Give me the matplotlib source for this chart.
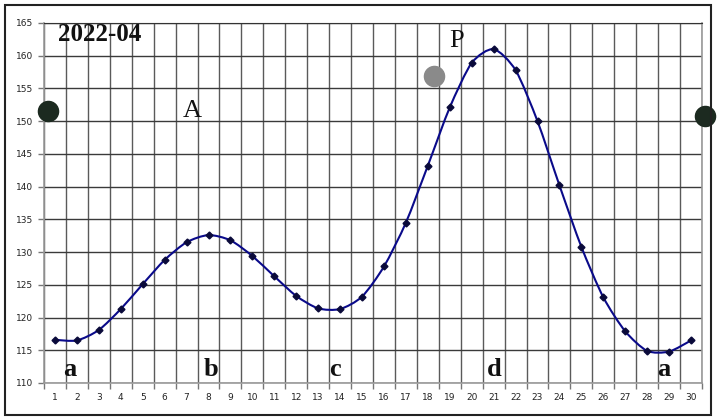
import numpy as np
import matplotlib.pyplot as plt
from matplotlib.path import Path
from matplotlib.patches import PathPatch, Rectangle

days = list(range(1, 31))
values = [116.6, 116.5, 118.1, 121.3, 125.1, 128.8, 131.5, 132.6, 131.8, 129.4,
          126.3, 123.3, 121.4, 121.3, 123.2, 127.8, 134.5, 143.2, 152.1, 158.9,
          161.0, 157.8, 150.0, 140.2, 130.8, 123.1, 117.9, 114.9, 114.8, 116.5]

title_text = '2022-04'
letters = [('A', 7.25, 151.5, 'normal'), ('P', 19.33, 162.2, 'normal'),
           ('a', 1.69, 112.0, 'bold'), ('b', 8.1, 112.0, 'bold'),
           ('c', 13.77, 112.0, 'bold'), ('d', 21.02, 112.0, 'bold'),
           ('a', 28.77, 112.0, 'bold')]
dots = [(0.68, 151.6, '#1c2a20'), (18.28, 156.9, '#8a8a8a'), (30.64, 150.8, '#1c2a20')]


def smooth_path(xs, ys, t=1.0 / 8):
    # catmull-rom style bezier, like excel's smoothed line
    pts = np.column_stack([xs, ys])
    verts = [pts[0]]
    codes = [Path.MOVETO]
    n = len(pts)
    for i in range(n - 1):
        p0 = pts[max(i - 1, 0)]
        p1 = pts[i]
        p2 = pts[i + 1]
        p3 = pts[min(i + 2, n - 1)]
        c1 = p1 + (p2 - p0) * t
        c2 = p2 - (p3 - p1) * t
        verts += [c1, c2, p2]
        codes += [Path.CURVE4] * 3
    return Path(verts, codes)


fig = plt.figure(figsize=(7.17, 4.2), dpi=100)
ax = fig.add_axes([44 / 717, 37 / 420, 658 / 717, 360 / 420])

ax.set_xlim(0.5, 30.5)
ax.set_ylim(110, 165)

ax.set_xticks(days)
ax.set_xticklabels([str(d) for d in days])
ax.set_xticks(np.arange(0.5, 31, 1), minor=True)
ax.set_yticks(np.arange(110, 166, 5))
ax.tick_params(axis='x', which='major', length=0, labelsize=6.5, labelcolor='#222222', pad=7)
ax.tick_params(axis='x', which='minor', length=4, color='#777777', width=1)
ax.tick_params(axis='y', which='major', length=4, color='#777777', width=1,
               labelsize=6.5, labelcolor='#222222', pad=4)

ax.grid(True, axis='x', which='minor', color='#5a5a5a', linewidth=1)
ax.grid(True, axis='y', which='major', color='#3a3a3a', linewidth=1)
ax.set_axisbelow(True)

for s in ['left', 'bottom', 'right']:
    ax.spines[s].set_color('#999999')
    ax.spines[s].set_linewidth(1.2)
ax.spines['top'].set_color('#333333')

ax.add_patch(PathPatch(smooth_path(days, values), facecolor='none',
                       edgecolor='#0a0a8a', linewidth=1.5, zorder=3))
ax.plot(days, values, linestyle='none', marker='D', markersize=3.5,
        color='#0a0a3a', zorder=4)

ax.text(3.05, 163.3, title_text, fontfamily='Liberation Serif', fontweight='bold',
        fontsize=18, ha='center', va='center', color='#111111')
for txt, x, y, w in letters:
    ax.text(x, y, txt, fontfamily='Liberation Serif', fontweight=w,
            fontsize=19, ha='center', va='center', color='#111111', zorder=5)

for x, y, c in dots:
    ax.scatter([x], [y], s=210, color=c, zorder=6, clip_on=False)

fig.patches.append(Rectangle((5 / 717, 5 / 420), 706 / 717, 410 / 420,
                             transform=fig.transFigure, fill=False,
                             edgecolor='#222222', linewidth=1.5))

fig.savefig('out.png', dpi=100)
